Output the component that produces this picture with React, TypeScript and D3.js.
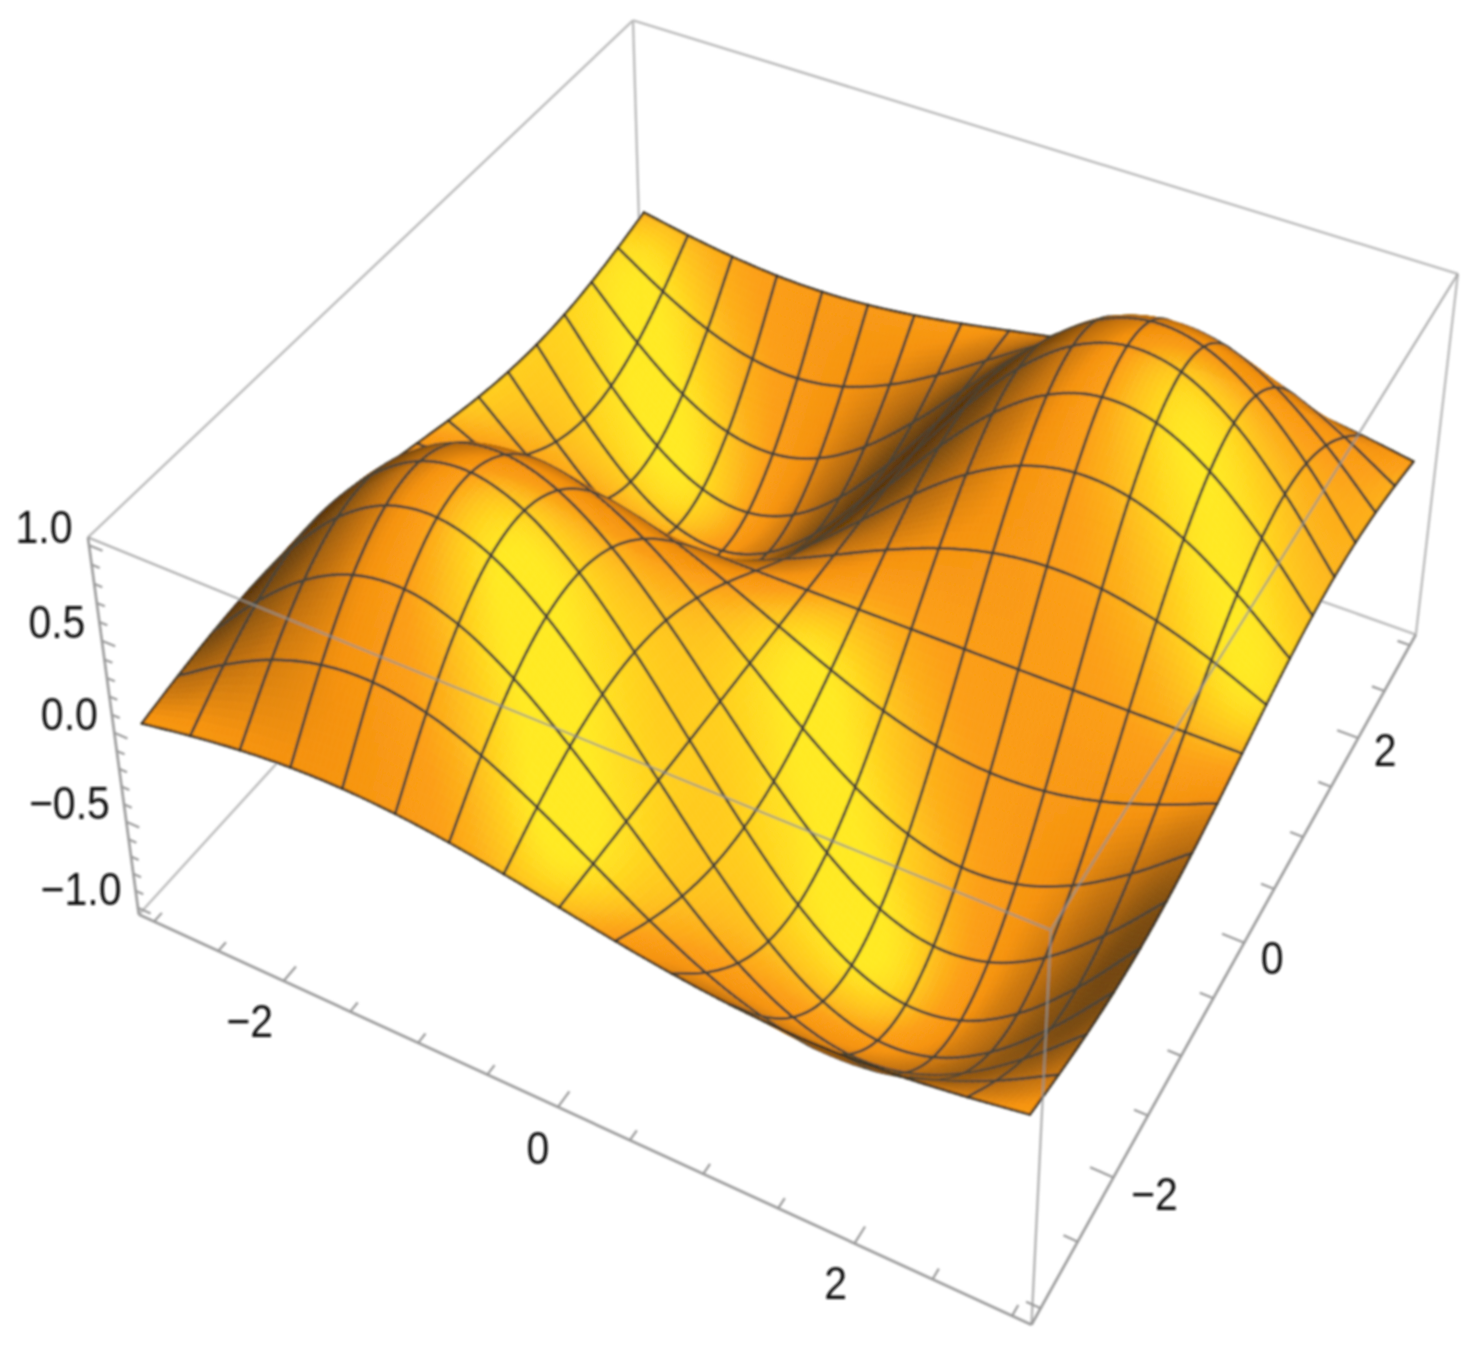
// App.tsx
import React, { useEffect, useRef } from "react";
import * as d3 from "d3";

// mesh positions along x and y
const meshX = [-3, -2.625, -2.25, -1.875, -1.5, -1.125, -0.75, -0.375, 0, 0.375, 0.75, 1.125, 1.5, 1.875, 2.25, 2.625, 3];
const meshY = [-3, -2.625, -2.25, -1.875, -1.5, -1.125, -0.75, -0.375, 0, 0.375, 0.75, 1.125, 1.5, 1.875, 2.25, 2.625, 3];

// surface height at each mesh node, one row per meshY value
const zRows = [
  [0.020, 0.070, 0.110, 0.135, 0.141, 0.127, 0.096, 0.052, 0, -0.052, -0.096, -0.127, -0.141, -0.135, -0.110, -0.070, -0.020],
  [0.070, 0.244, 0.384, 0.471, 0.493, 0.446, 0.337, 0.181, 0, -0.181, -0.337, -0.446, -0.493, -0.471, -0.384, -0.244, -0.070],
  [0.110, 0.384, 0.605, 0.742, 0.776, 0.702, 0.530, 0.285, 0, -0.285, -0.530, -0.702, -0.776, -0.742, -0.605, -0.384, -0.110],
  [0.135, 0.471, 0.742, 0.910, 0.952, 0.861, 0.650, 0.349, 0, -0.349, -0.650, -0.861, -0.952, -0.910, -0.742, -0.471, -0.135],
  [0.141, 0.493, 0.776, 0.952, 0.995, 0.900, 0.680, 0.365, 0, -0.365, -0.680, -0.900, -0.995, -0.952, -0.776, -0.493, -0.141],
  [0.127, 0.446, 0.702, 0.861, 0.900, 0.814, 0.615, 0.331, 0, -0.331, -0.615, -0.814, -0.900, -0.861, -0.702, -0.446, -0.127],
  [0.096, 0.337, 0.530, 0.650, 0.680, 0.615, 0.465, 0.250, 0, -0.250, -0.465, -0.615, -0.680, -0.650, -0.530, -0.337, -0.096],
  [0.052, 0.181, 0.285, 0.349, 0.365, 0.331, 0.250, 0.134, 0, -0.134, -0.250, -0.331, -0.365, -0.349, -0.285, -0.181, -0.052],
  [0, 0, 0, 0, 0, 0, 0, 0, 0, 0, 0, 0, 0, 0, 0, 0, 0],
  [-0.052, -0.181, -0.285, -0.349, -0.365, -0.331, -0.250, -0.134, 0, 0.134, 0.250, 0.331, 0.365, 0.349, 0.285, 0.181, 0.052],
  [-0.096, -0.337, -0.530, -0.650, -0.680, -0.615, -0.465, -0.250, 0, 0.250, 0.465, 0.615, 0.680, 0.650, 0.530, 0.337, 0.096],
  [-0.127, -0.446, -0.702, -0.861, -0.900, -0.814, -0.615, -0.331, 0, 0.331, 0.615, 0.814, 0.900, 0.861, 0.702, 0.446, 0.127],
  [-0.141, -0.493, -0.776, -0.952, -0.995, -0.900, -0.680, -0.365, 0, 0.365, 0.680, 0.900, 0.995, 0.952, 0.776, 0.493, 0.141],
  [-0.135, -0.471, -0.742, -0.910, -0.952, -0.861, -0.650, -0.349, 0, 0.349, 0.650, 0.861, 0.952, 0.910, 0.742, 0.471, 0.135],
  [-0.110, -0.384, -0.605, -0.742, -0.776, -0.702, -0.530, -0.285, 0, 0.285, 0.530, 0.702, 0.776, 0.742, 0.605, 0.384, 0.110],
  [-0.070, -0.244, -0.384, -0.471, -0.493, -0.446, -0.337, -0.181, 0, 0.181, 0.337, 0.446, 0.493, 0.471, 0.384, 0.244, 0.070],
  [-0.020, -0.070, -0.110, -0.135, -0.141, -0.127, -0.096, -0.052, 0, 0.052, 0.096, 0.127, 0.141, 0.135, 0.110, 0.070, 0.020],
];

// tick labels
const xyMajorTicks = [-2, 0, 2];
const xyMinorTicks = [-3, -2.5, -1.5, -1, -0.5, 0.5, 1, 1.5, 2.5, 3];
const zMajorTicks = [-1, -0.5, 0, 0.5, 1];
const zMinorTicks = [-0.9, -0.8, -0.7, -0.6, -0.4, -0.3, -0.2, -0.1, 0.1, 0.2, 0.3, 0.4, 0.6, 0.7, 0.8, 0.9];

// the labels do not sit at a constant distance from their ticks
const xLabelShift = [[-34, 39], [-20, 40], [-19, 39]];
const yLabelShift = [[41, 16], [28, 15], [27, 11]];

const xyLimit = 3.12;
const zLimit = 1.04;
const subdiv = 10;

type V3 = [number, number, number];
const dot = (a: V3, b: V3) => a[0] * b[0] + a[1] * b[1] + a[2] * b[2];
const unit = (a: V3): V3 => {
  const l = Math.hypot(a[0], a[1], a[2]);
  return [a[0] / l, a[1] / l, a[2] / l];
};

// camera, looking at the middle of the box from the default viewpoint
const viewPoint: V3 = [1.3, -2.4, 2];
const fwd = unit([-viewPoint[0], -viewPoint[1], -viewPoint[2]]);
const right = unit([fwd[1], -fwd[0], 0]);
const up: V3 = [
  right[1] * fwd[2] - right[2] * fwd[1],
  right[2] * fwd[0] - right[0] * fwd[2],
  right[0] * fwd[1] - right[1] * fwd[0],
];
const viewDist = Math.hypot(viewPoint[0], viewPoint[1], viewPoint[2]);

const boxXY = d3.scaleLinear().domain([-xyLimit, xyLimit]).range([-0.5, 0.5]);
const boxZ = d3.scaleLinear().domain([-zLimit, zLimit]).range([-0.2, 0.2]);
const screenX = d3.scaleLinear().domain([0, 1]).range([807, 807 + 3292]);
const screenY = d3.scaleLinear().domain([0, 1]).range([590, 590 - 3864]);

const project = (x: number, y: number, z: number) => {
  const p: V3 = [boxXY(x), boxXY(y), boxZ(z)];
  const d = dot(p, fwd) + viewDist;
  return { x: screenX(dot(p, right) / d), y: screenY(dot(p, up) / d), depth: d };
};

// lights: direction given in image coordinates, plus how much they add to green
const lights: { pos: V3; g: number }[] = [
  { pos: [2, 0, 2], g: 0.18 },
  { pos: [2, 2, 3], g: 0.5 },
  { pos: [0, 2, 2], g: 0.18 },
];
const ambient = 0.2;

const shade = d3
  .scaleLinear<string>()
  .domain([0.3, 0.45, 0.58, 0.72, 0.83, 0.885, 0.94, 0.985])
  .range(["#472a08", "#7a4a0a", "#c0700c", "#f59210", "#fc9f14", "#fdb21a", "#ffcd1e", "#ffe922"])
  .clamp(true);

const catmull = (p0: number, p1: number, p2: number, p3: number, t: number) =>
  0.5 *
  (2 * p1 +
    (p2 - p0) * t +
    (2 * p0 - 5 * p1 + 4 * p2 - p3) * t * t +
    (3 * p1 - p0 - 3 * p2 + p3) * t * t * t);

const refine = (line: number[]) => {
  const out: number[] = [];
  const n = line.length;
  for (let i = 0; i < n - 1; i++) {
    const a = i > 0 ? line[i - 1] : 2 * line[0] - line[1];
    const d = i < n - 2 ? line[i + 2] : 2 * line[n - 1] - line[n - 2];
    for (let k = 0; k < subdiv; k++) out.push(catmull(a, line[i], line[i + 1], d, k / subdiv));
  }
  out.push(line[n - 1]);
  return out;
};

const App: React.FC = () => {
  const svgRef = useRef<SVGSVGElement | null>(null);

  useEffect(() => {
    if (!svgRef.current) return;
    const svg = d3.select(svgRef.current);
    svg.selectAll("*").remove();

    svg
      .append("filter")
      .attr("id", "soft")
      .attr("filterUnits", "userSpaceOnUse")
      .attr("x", 0)
      .attr("y", 0)
      .attr("width", 1480)
      .attr("height", 1347)
      .append("feGaussianBlur")
      .attr("stdDeviation", 0.9);
    const root = svg.append("g").attr("filter", "url(#soft)");

    const L = xyLimit;
    const Z = zLimit;
    const boxLine = (g: any, a: number[], b: number[], color: string, w = 2.4) => {
      const p = project(a[0], a[1], a[2]);
      const q = project(b[0], b[1], b[2]);
      g.append("line")
        .attr("x1", p.x)
        .attr("y1", p.y)
        .attr("x2", q.x)
        .attr("y2", q.y)
        .attr("stroke", color)
        .attr("stroke-width", w);
    };

    // box edges behind the surface
    const back = root.append("g");
    const edgeColor = "#bcbcbc";
    const axisColor = "#9c9c9c";
    boxLine(back, [-L, -L, -Z], [-L, L, -Z], edgeColor);
    boxLine(back, [L, L, -Z], [-L, L, -Z], edgeColor);
    boxLine(back, [-L, L, -Z], [-L, L, Z], edgeColor);
    boxLine(back, [-L, -L, Z], [-L, L, Z], edgeColor);
    boxLine(back, [-L, L, Z], [L, L, Z], edgeColor);
    boxLine(back, [L, L, -Z], [L, L, Z], edgeColor);
    boxLine(back, [-L, -L, -Z], [-L, -L, Z], axisColor, 2.7);
    boxLine(back, [-L, -L, -Z], [L, -L, -Z], axisColor, 2.7);
    boxLine(back, [L, -L, -Z], [L, L, -Z], axisColor, 2.7);

    // ticks
    const tickColor = "#9a9a9a";
    xyMajorTicks.forEach((t) => {
      boxLine(back, [t, -L, -Z], [t, -L + 0.13, -Z], tickColor, 2.2);
      boxLine(back, [L, t, -Z], [L - 0.15, t, -Z], tickColor, 2.2);
    });
    xyMinorTicks.forEach((t) => {
      boxLine(back, [t, -L, -Z], [t, -L + 0.08, -Z], tickColor, 2.2);
      boxLine(back, [L, t, -Z], [L - 0.09, t, -Z], tickColor, 2.2);
    });
    zMajorTicks.forEach((t) => boxLine(back, [-L, -L, t], [-L + 0.1, -L, t], tickColor, 2.2));
    zMinorTicks.forEach((t) => boxLine(back, [-L, -L, t], [-L + 0.06, -L, t], tickColor, 2.2));

    // surface on a finer grid between the mesh nodes
    const fx = refine(meshX);
    const fy = refine(meshY);
    const smoothRows = zRows.map(refine);
    const columns = d3.range(fx.length).map((i) => refine(smoothRows.map((r) => r[i])));
    const zAt = (i: number, j: number) => columns[i][j];
    const n = fx.length;

    const colorAt = (i: number, j: number, px: number, py: number) => {
      const i0 = Math.max(i - 1, 0);
      const i1 = Math.min(i + 1, n - 1);
      const j0 = Math.max(j - 1, 0);
      const j1 = Math.min(j + 1, n - 1);
      const dzdx = (boxZ(zAt(i1, j)) - boxZ(zAt(i0, j))) / (boxXY(fx[i1]) - boxXY(fx[i0]));
      const dzdy = (boxZ(zAt(i, j1)) - boxZ(zAt(i, j0))) / (boxXY(fy[j1]) - boxXY(fy[j0]));
      const nrm = unit([-dzdx, -dzdy, 1]);
      const view: V3 = [dot(nrm, right), dot(nrm, up), -dot(nrm, fwd)];
      const ix = px / 1480;
      const iy = 1 - py / 1347;
      let g = ambient;
      lights.forEach((l) => {
        const dir = unit([l.pos[0] - ix, l.pos[1] - iy, l.pos[2]]);
        g += l.g * Math.max(0, dot(view, dir));
      });
      return shade(g);
    };

    type Item = { depth: number; kind: "quad" | "seg"; d: string; color?: string; rim?: boolean };
    const items: Item[] = [];
    const pts = d3.range(n).map((i) => d3.range(n).map((j) => project(fx[i], fy[j], zAt(i, j))));

    for (let i = 0; i < n - 1; i++) {
      for (let j = 0; j < n - 1; j++) {
        const a = pts[i][j];
        const b = pts[i + 1][j];
        const c = pts[i + 1][j + 1];
        const e = pts[i][j + 1];
        items.push({
          depth: (a.depth + b.depth + c.depth + e.depth) / 4,
          kind: "quad",
          d: `M${a.x.toFixed(2)},${a.y.toFixed(2)}L${b.x.toFixed(2)},${b.y.toFixed(2)}L${c.x.toFixed(2)},${c.y.toFixed(2)}L${e.x.toFixed(2)},${e.y.toFixed(2)}Z`,
          color: colorAt(i, j, (a.x + c.x) / 2, (a.y + c.y) / 2),
        });
      }
    }
    const nudge = 0.004;
    const seg = (a: { x: number; y: number; depth: number }, b: { x: number; y: number; depth: number }, rim: boolean) =>
      items.push({
        depth: (a.depth + b.depth) / 2 - nudge,
        kind: "seg",
        rim,
        d: `M${a.x.toFixed(2)},${a.y.toFixed(2)}L${b.x.toFixed(2)},${b.y.toFixed(2)}`,
      });
    for (let i = 0; i < n; i++) {
      for (let j = 0; j < n; j++) {
        if (i % subdiv === 0 && j < n - 1) seg(pts[i][j], pts[i][j + 1], i === 0 || i === n - 1);
        if (j % subdiv === 0 && i < n - 1) seg(pts[i][j], pts[i + 1][j], j === 0 || j === n - 1);
      }
    }
    items.sort((p, q) => q.depth - p.depth);

    const surface = root.append("g").attr("stroke-linejoin", "round");
    items.forEach((it) => {
      const path = surface.append("path").attr("d", it.d);
      if (it.kind === "quad") {
        path.attr("fill", it.color!).attr("stroke", it.color!).attr("stroke-width", 0.7);
      } else {
        path
          .attr("fill", "none")
          .attr("stroke", it.rim ? "#3a3020" : "#4a4538")
          .attr("stroke-width", it.rim ? 2.4 : 2.8)
          .attr("stroke-linecap", "round");
      }
    });

    // box edges in front of the surface
    const front = root.append("g");
    const overColor = "rgba(150,150,150,0.72)";
    boxLine(front, [-L, -L, Z], [L, -L, Z], overColor);
    boxLine(front, [L, -L, Z], [L, L, Z], overColor);
    boxLine(front, [L, -L, -Z], [L, -L, Z], overColor);

    // labels, squeezed a little like the reference
    const label = (px: number, py: number, s: string, anchor: string) => {
      root
        .append("text")
        .attr("transform", `translate(${px},${py + 16.5}) scale(1,1.13)`)
        .attr("text-anchor", anchor)
        .attr("font-family", "'Liberation Sans', Arial, sans-serif")
        .attr("font-size", 41)
        .attr("fill", "#111")
        .text(s);
    };
    const fmt = (v: number) => (v < 0 ? "\u2212" : "") + Math.abs(v);
    zMajorTicks.forEach((t) => {
      const p = project(-L, -L, t);
      label(p.x - 16.5, p.y - 19, (t < 0 ? "\u2212" : "") + Math.abs(t).toFixed(1), "end");
    });
    xyMajorTicks.forEach((t, k) => {
      const p = project(t, -L, -Z);
      label(p.x + xLabelShift[k][0], p.y + xLabelShift[k][1], fmt(t), "middle");
      const q = project(L, t, -Z);
      label(q.x + yLabelShift[k][0], q.y + yLabelShift[k][1], fmt(t), "middle");
    });
  }, []);

  return (
    <svg
      ref={svgRef}
      width={1480}
      height={1347}
      style={{ position: "absolute", left: 0, top: 0, background: "#fff" }}
    ></svg>
  );
};

export default App;
